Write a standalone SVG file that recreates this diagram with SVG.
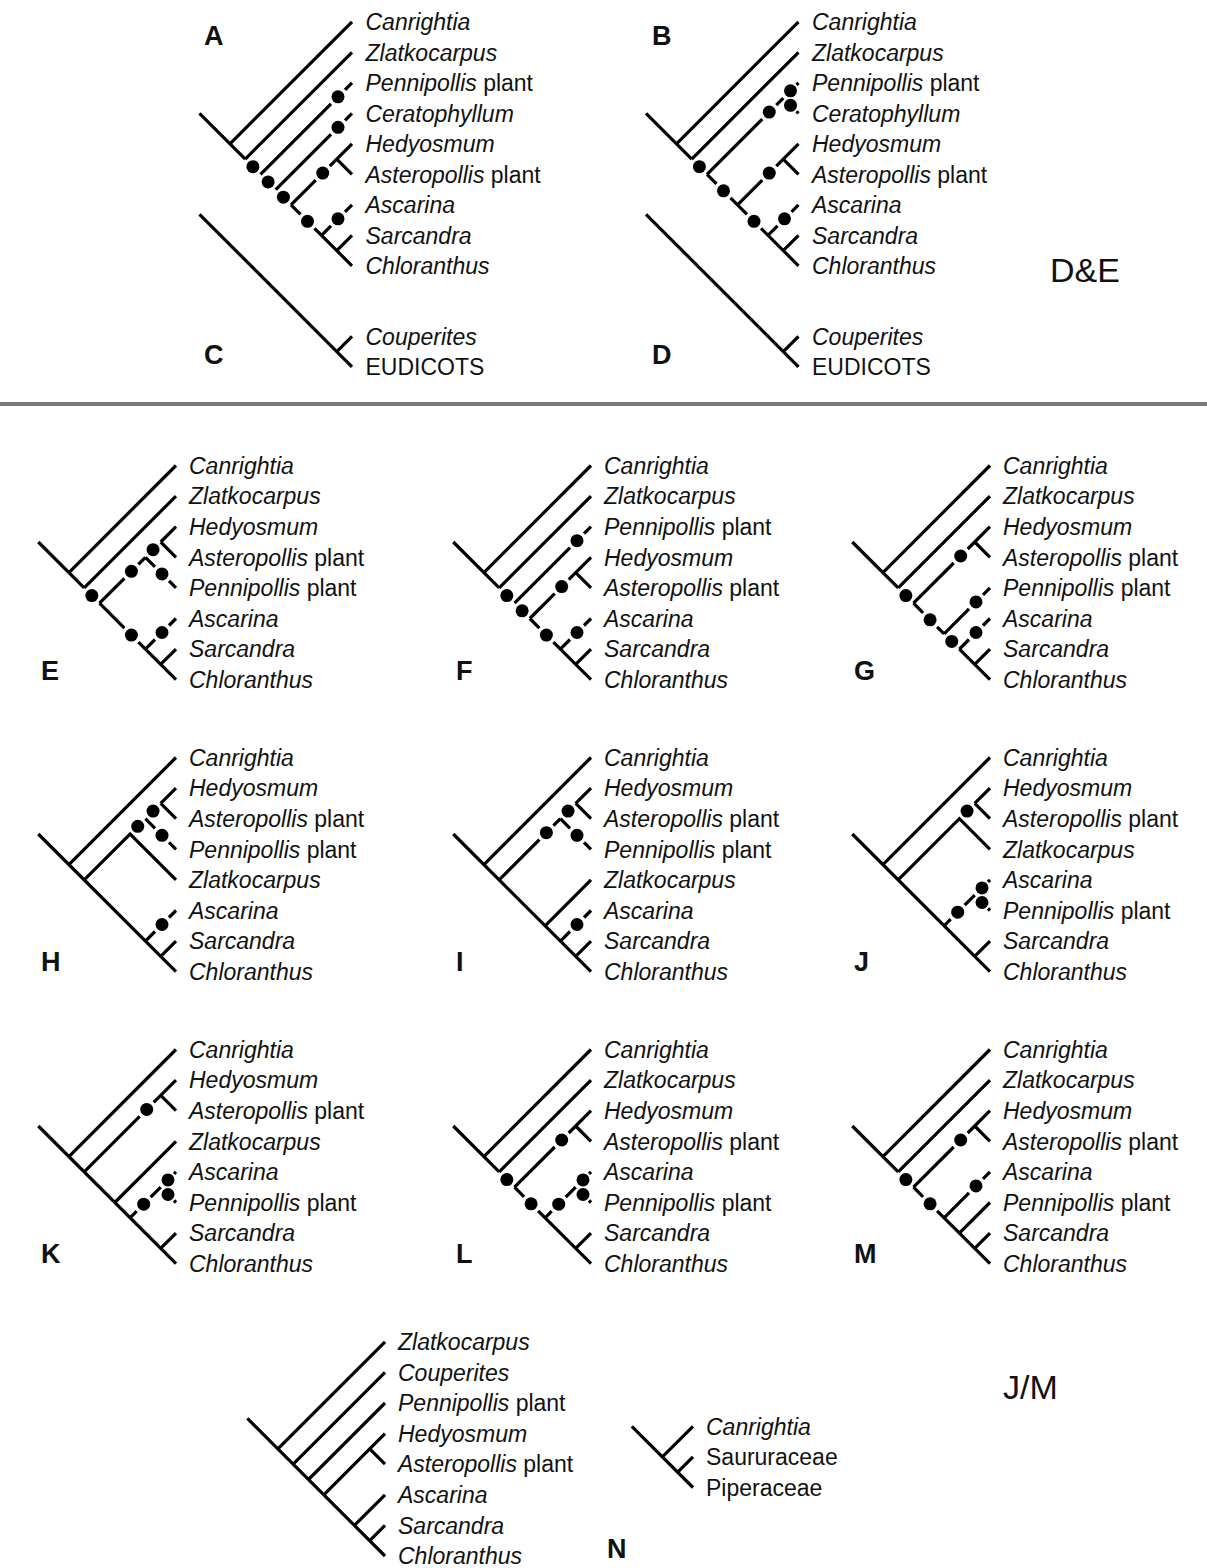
<svg xmlns="http://www.w3.org/2000/svg" xmlns:xlink="http://www.w3.org/1999/xlink" width="1207" height="1568" viewBox="0 0 1207 1568">
<defs>
<style>
.l{fill:none;stroke:#000;stroke-width:3.2;stroke-linecap:butt;stroke-linejoin:miter}
.t{font-family:"Liberation Sans",Arial,Helvetica,sans-serif;font-size:23px;fill:#111}
.i{font-style:italic}
.pl{font-family:"Liberation Sans",Arial,Helvetica,sans-serif;font-size:27px;font-weight:bold;fill:#111}
.big{font-family:"Liberation Sans",Arial,Helvetica,sans-serif;font-size:34px;fill:#111}
</style>
<circle id="dot" r="6.5" fill="#000"/>
</defs>
<rect width="1207" height="1568" fill="#fff"/>

<!-- Tree A -->
<g id="tree-A" transform="translate(352,265.8)">
<g id="A-connectors">
<path class="l" d="M-152.5,-152.5 L-106.75,-106.75 M-122,-122 L0,-244 M-106.75,-106.75 L0,-213.5 M-91.5,-91.5 L-21,-162 M-7,-176 L0,-183 M-76.25,-76.25 L-21,-131.5 M-7,-145.5 L0,-152.5 M-61,-61 L-36.25,-85.75 M-22.25,-99.75 L-15.25,-106.75 L0,-122 M-15.25,-106.75 L0,-91.5 M-61,-61 L-51.5,-51.5 M-37.5,-37.5 L0,0 M-30.5,-30.5 L-21,-40 M-7,-54 L0,-61 M-15.25,-15.25 L0,-30.5"/>
<use xlink:href="#dot" x="-99.1" y="-99.1"/><use xlink:href="#dot" x="-14" y="-169"/><use xlink:href="#dot" x="-83.9" y="-83.9"/><use xlink:href="#dot" x="-14" y="-138.5"/><use xlink:href="#dot" x="-68.6" y="-68.6"/><use xlink:href="#dot" x="-29.25" y="-92.75"/><use xlink:href="#dot" x="-44.5" y="-44.5"/><use xlink:href="#dot" x="-14" y="-47"/>
</g>
<g id="A-labels" class="t">
<text x="13.5" y="-235.8" class="i">Canrightia</text>
<text x="13.5" y="-205.3" class="i">Zlatkocarpus</text>
<text x="13.5" y="-174.8"><tspan class="i">Pennipollis</tspan> plant</text>
<text x="13.5" y="-144.3" class="i">Ceratophyllum</text>
<text x="13.5" y="-113.8" class="i">Hedyosmum</text>
<text x="13.5" y="-83.3"><tspan class="i">Asteropollis</tspan> plant</text>
<text x="13.5" y="-52.8" class="i">Ascarina</text>
<text x="13.5" y="-22.3" class="i">Sarcandra</text>
<text x="13.5" y="8.2" class="i">Chloranthus</text>
</g>
</g>

<!-- Tree C -->
<g id="tree-C" transform="translate(352,366.8)">
<g id="C-connectors"><path class="l" d="M-152.5,-152.5 L0,0 M-15.25,-15.25 L0,-30.5"/></g>
<g id="C-labels" class="t">
<text x="13.5" y="-22.3" class="i">Couperites</text>
<text x="13.5" y="8.2">EUDICOTS</text>
</g>
</g>

<!-- Tree B -->
<g id="tree-B" transform="translate(798.5,265.8)">
<g id="B-connectors">
<path class="l" d="M-152.5,-152.5 L-106.75,-106.75 M-122,-122 L0,-244 M-106.75,-106.75 L0,-213.5 M-91.5,-91.5 L-82,-82 M-68,-68 L-61,-61 M-91.5,-91.5 L-36.25,-146.75 M-22.25,-160.75 L-15.25,-167.75 M-2,-181 L0,-183 M-2,-154.5 L0,-152.5 M-61,-61 L-36.25,-85.75 M-22.25,-99.75 L-15.25,-106.75 L0,-122 M-15.25,-106.75 L0,-91.5 M-61,-61 L-51.5,-51.5 M-37.5,-37.5 L0,0 M-30.5,-30.5 L-21,-40 M-7,-54 L0,-61 M-15.25,-15.25 L0,-30.5"/>
<use xlink:href="#dot" x="-99.1" y="-99.1"/><use xlink:href="#dot" x="-75" y="-75"/><use xlink:href="#dot" x="-29.25" y="-153.75"/><use xlink:href="#dot" x="-8" y="-175"/><use xlink:href="#dot" x="-8" y="-160.5"/><use xlink:href="#dot" x="-29.25" y="-92.75"/><use xlink:href="#dot" x="-44.5" y="-44.5"/><use xlink:href="#dot" x="-14" y="-47"/>
</g>
<g id="B-labels" class="t">
<text x="13.5" y="-235.8" class="i">Canrightia</text>
<text x="13.5" y="-205.3" class="i">Zlatkocarpus</text>
<text x="13.5" y="-174.8"><tspan class="i">Pennipollis</tspan> plant</text>
<text x="13.5" y="-144.3" class="i">Ceratophyllum</text>
<text x="13.5" y="-113.8" class="i">Hedyosmum</text>
<text x="13.5" y="-83.3"><tspan class="i">Asteropollis</tspan> plant</text>
<text x="13.5" y="-52.8" class="i">Ascarina</text>
<text x="13.5" y="-22.3" class="i">Sarcandra</text>
<text x="13.5" y="8.2" class="i">Chloranthus</text>
</g>
</g>

<!-- Tree D -->
<g id="tree-D" transform="translate(798.5,366.8)">
<g id="D-connectors"><path class="l" d="M-152.5,-152.5 L0,0 M-15.25,-15.25 L0,-30.5"/></g>
<g id="D-labels" class="t">
<text x="13.5" y="-22.3" class="i">Couperites</text>
<text x="13.5" y="8.2">EUDICOTS</text>
</g>
</g>

<g id="panel-letters-top">
<text class="pl" x="204" y="44.5">A</text>
<text class="pl" x="204" y="364">C</text>
<text class="pl" x="652" y="44.5">B</text>
<text class="pl" x="652" y="364">D</text>
<text class="big" x="1050" y="282">D&amp;E</text>
</g>

<line id="separator" x1="0" y1="404" x2="1207" y2="404" stroke="#7a7a7a" stroke-width="4"/>

<!-- Tree E -->
<g id="tree-E" transform="translate(176,679.7)">
<g id="E-connectors">
<path class="l" d="M-137.7,-137.7 L-91.8,-91.8 M-107.1,-107.1 L0,-214.2 M-91.8,-91.8 L0,-183.6 M-76.5,-76.5 L-51.6,-101.4 M-37.6,-115.4 L-30.6,-122.4 M-15.3,-137.7 L0,-153 M-15.3,-137.7 L0,-122.4 M-30.6,-122.4 L-21,-112.8 M-7,-98.8 L0,-91.8 M-76.5,-76.5 L-51.6,-51.6 M-37.6,-37.6 L0,0 M-30.6,-30.6 L-21,-40.2 M-7,-54.2 L0,-61.2 M-15.3,-15.3 L0,-30.6"/>
<use xlink:href="#dot" x="-84.15" y="-84.15"/><use xlink:href="#dot" x="-44.6" y="-108.4"/><use xlink:href="#dot" x="-22.95" y="-130.05"/><use xlink:href="#dot" x="-14" y="-105.8"/><use xlink:href="#dot" x="-44.6" y="-44.6"/><use xlink:href="#dot" x="-14" y="-47.2"/>
</g>
<g id="E-labels" class="t">
<text x="13" y="-206" class="i">Canrightia</text>
<text x="13" y="-175.4" class="i">Zlatkocarpus</text>
<text x="13" y="-144.8" class="i">Hedyosmum</text>
<text x="13" y="-114.2"><tspan class="i">Asteropollis</tspan> plant</text>
<text x="13" y="-83.6"><tspan class="i">Pennipollis</tspan> plant</text>
<text x="13" y="-53" class="i">Ascarina</text>
<text x="13" y="-22.4" class="i">Sarcandra</text>
<text x="13" y="8.2" class="i">Chloranthus</text>
</g>
</g>

<!-- Tree F -->
<g id="tree-F" transform="translate(591,679.7)">
<g id="F-connectors">
<path class="l" d="M-137.7,-137.7 L-91.8,-91.8 M-107.1,-107.1 L0,-214.2 M-91.8,-91.8 L0,-183.6 M-76.5,-76.5 L-21,-132 M-7,-146 L0,-153 M-61.2,-61.2 L-36.3,-86.1 M-22.3,-100.1 L-15.3,-107.1 L0,-122.4 M-15.3,-107.1 L0,-91.8 M-61.2,-61.2 L-51.6,-51.6 M-37.6,-37.6 L0,0 M-30.6,-30.6 L-21,-40.2 M-7,-54.2 L0,-61.2 M-15.3,-15.3 L0,-30.6"/>
<use xlink:href="#dot" x="-84.15" y="-84.15"/><use xlink:href="#dot" x="-68.85" y="-68.85"/><use xlink:href="#dot" x="-14" y="-139"/><use xlink:href="#dot" x="-29.3" y="-93.1"/><use xlink:href="#dot" x="-44.6" y="-44.6"/><use xlink:href="#dot" x="-14" y="-47.2"/>
</g>
<g id="F-labels" class="t">
<text x="13" y="-206" class="i">Canrightia</text>
<text x="13" y="-175.4" class="i">Zlatkocarpus</text>
<text x="13" y="-144.8"><tspan class="i">Pennipollis</tspan> plant</text>
<text x="13" y="-114.2" class="i">Hedyosmum</text>
<text x="13" y="-83.6"><tspan class="i">Asteropollis</tspan> plant</text>
<text x="13" y="-53" class="i">Ascarina</text>
<text x="13" y="-22.4" class="i">Sarcandra</text>
<text x="13" y="8.2" class="i">Chloranthus</text>
</g>
</g>

<!-- Tree G -->
<g id="tree-G" transform="translate(990,679.7)">
<g id="G-connectors">
<path class="l" d="M-137.7,-137.7 L-91.8,-91.8 M-107.1,-107.1 L0,-214.2 M-91.8,-91.8 L0,-183.6 M-76.5,-76.5 L-36.3,-116.7 M-22.3,-130.7 L-15.3,-137.7 L0,-153 M-15.3,-137.7 L0,-122.4 M-76.5,-76.5 L-66.9,-66.9 M-52.9,-52.9 L-45.9,-45.9 M-45.9,-45.9 L-21,-70.8 M-7,-84.8 L0,-91.8 M-30.6,-30.6 L0,0 M-30.6,-30.6 L-21,-40.2 M-7,-54.2 L0,-61.2 M-15.3,-15.3 L0,-30.6"/>
<use xlink:href="#dot" x="-84.15" y="-84.15"/><use xlink:href="#dot" x="-29.3" y="-123.7"/><use xlink:href="#dot" x="-59.9" y="-59.9"/><use xlink:href="#dot" x="-14" y="-77.8"/><use xlink:href="#dot" x="-38.25" y="-38.25"/><use xlink:href="#dot" x="-14" y="-47.2"/>
</g>
<g id="G-labels" class="t">
<text x="13" y="-206" class="i">Canrightia</text>
<text x="13" y="-175.4" class="i">Zlatkocarpus</text>
<text x="13" y="-144.8" class="i">Hedyosmum</text>
<text x="13" y="-114.2"><tspan class="i">Asteropollis</tspan> plant</text>
<text x="13" y="-83.6"><tspan class="i">Pennipollis</tspan> plant</text>
<text x="13" y="-53" class="i">Ascarina</text>
<text x="13" y="-22.4" class="i">Sarcandra</text>
<text x="13" y="8.2" class="i">Chloranthus</text>
</g>
</g>

<!-- Tree H -->
<g id="tree-H" transform="translate(176,971.7)">
<g id="H-connectors">
<path class="l" d="M-137.7,-137.7 L0,0 M-107.1,-107.1 L0,-214.2 M-91.8,-91.8 L-45.9,-137.7 L0,-91.8 M-15.3,-168.3 L0,-183.6 M-15.3,-168.3 L0,-153 M-30.6,-153 L-21,-143.4 M-7,-129.4 L0,-122.4 M-30.6,-30.6 L-21,-40.2 M-7,-54.2 L0,-61.2 M-15.3,-15.3 L0,-30.6"/>
<use xlink:href="#dot" x="-38.25" y="-145.35"/><use xlink:href="#dot" x="-22.95" y="-160.65"/><use xlink:href="#dot" x="-14" y="-136.4"/><use xlink:href="#dot" x="-14" y="-47.2"/>
</g>
<g id="H-labels" class="t">
<text x="13" y="-206" class="i">Canrightia</text>
<text x="13" y="-175.4" class="i">Hedyosmum</text>
<text x="13" y="-144.8"><tspan class="i">Asteropollis</tspan> plant</text>
<text x="13" y="-114.2"><tspan class="i">Pennipollis</tspan> plant</text>
<text x="13" y="-83.6" class="i">Zlatkocarpus</text>
<text x="13" y="-53" class="i">Ascarina</text>
<text x="13" y="-22.4" class="i">Sarcandra</text>
<text x="13" y="8.2" class="i">Chloranthus</text>
</g>
</g>

<!-- Tree I -->
<g id="tree-I" transform="translate(591,971.7)">
<g id="I-connectors">
<path class="l" d="M-137.7,-137.7 L0,0 M-107.1,-107.1 L0,-214.2 M-91.8,-91.8 L-51.6,-132 M-37.6,-146 L-30.6,-153 M-15.3,-168.3 L0,-183.6 M-15.3,-168.3 L0,-153 M-30.6,-153 L-21,-143.4 M-7,-129.4 L0,-122.4 M-45.9,-45.9 L0,-91.8 M-30.6,-30.6 L-21,-40.2 M-7,-54.2 L0,-61.2 M-15.3,-15.3 L0,-30.6"/>
<use xlink:href="#dot" x="-44.6" y="-139"/><use xlink:href="#dot" x="-22.95" y="-160.65"/><use xlink:href="#dot" x="-14" y="-136.4"/><use xlink:href="#dot" x="-14" y="-47.2"/>
</g>
<g id="I-labels" class="t">
<text x="13" y="-206" class="i">Canrightia</text>
<text x="13" y="-175.4" class="i">Hedyosmum</text>
<text x="13" y="-144.8"><tspan class="i">Asteropollis</tspan> plant</text>
<text x="13" y="-114.2"><tspan class="i">Pennipollis</tspan> plant</text>
<text x="13" y="-83.6" class="i">Zlatkocarpus</text>
<text x="13" y="-53" class="i">Ascarina</text>
<text x="13" y="-22.4" class="i">Sarcandra</text>
<text x="13" y="8.2" class="i">Chloranthus</text>
</g>
</g>

<!-- Tree J -->
<g id="tree-J" transform="translate(990,971.7)">
<g id="J-connectors">
<path class="l" d="M-137.7,-137.7 L0,0 M-107.1,-107.1 L0,-214.2 M-91.8,-91.8 L-30.6,-153 L0,-122.4 M-15.3,-168.3 L0,-183.6 M-15.3,-168.3 L0,-153 M-45.9,-45.9 L-39.3,-52.5 M-25.3,-66.5 L-15.3,-76.5 M-2,-89.8 L0,-91.8 M-2,-63.2 L0,-61.2 M-15.3,-15.3 L0,-30.6"/>
<use xlink:href="#dot" x="-22.95" y="-160.65"/><use xlink:href="#dot" x="-32.3" y="-59.5"/><use xlink:href="#dot" x="-8" y="-83.8"/><use xlink:href="#dot" x="-8" y="-69.2"/>
</g>
<g id="J-labels" class="t">
<text x="13" y="-206" class="i">Canrightia</text>
<text x="13" y="-175.4" class="i">Hedyosmum</text>
<text x="13" y="-144.8"><tspan class="i">Asteropollis</tspan> plant</text>
<text x="13" y="-114.2" class="i">Zlatkocarpus</text>
<text x="13" y="-83.6" class="i">Ascarina</text>
<text x="13" y="-53"><tspan class="i">Pennipollis</tspan> plant</text>
<text x="13" y="-22.4" class="i">Sarcandra</text>
<text x="13" y="8.2" class="i">Chloranthus</text>
</g>
</g>

<!-- Tree K -->
<g id="tree-K" transform="translate(176,1263.7)">
<g id="K-connectors">
<path class="l" d="M-137.7,-137.7 L0,0 M-107.1,-107.1 L0,-214.2 M-91.8,-91.8 L-36.3,-147.3 M-22.3,-161.3 L-15.3,-168.3 L0,-183.6 M-15.3,-168.3 L0,-153 M-61.2,-61.2 L0,-122.4 M-45.9,-45.9 L-39.3,-52.5 M-25.3,-66.5 L-15.3,-76.5 M-2,-89.8 L0,-91.8 M-2,-63.2 L0,-61.2 M-15.3,-15.3 L0,-30.6"/>
<use xlink:href="#dot" x="-29.3" y="-154.3"/><use xlink:href="#dot" x="-32.3" y="-59.5"/><use xlink:href="#dot" x="-8" y="-83.8"/><use xlink:href="#dot" x="-8" y="-69.2"/>
</g>
<g id="K-labels" class="t">
<text x="13" y="-206" class="i">Canrightia</text>
<text x="13" y="-175.4" class="i">Hedyosmum</text>
<text x="13" y="-144.8"><tspan class="i">Asteropollis</tspan> plant</text>
<text x="13" y="-114.2" class="i">Zlatkocarpus</text>
<text x="13" y="-83.6" class="i">Ascarina</text>
<text x="13" y="-53"><tspan class="i">Pennipollis</tspan> plant</text>
<text x="13" y="-22.4" class="i">Sarcandra</text>
<text x="13" y="8.2" class="i">Chloranthus</text>
</g>
</g>

<!-- Tree L -->
<g id="tree-L" transform="translate(591,1263.7)">
<g id="L-connectors">
<path class="l" d="M-137.7,-137.7 L-91.8,-91.8 M-107.1,-107.1 L0,-214.2 M-91.8,-91.8 L0,-183.6 M-76.5,-76.5 L-36.3,-116.7 M-22.3,-130.7 L-15.3,-137.7 L0,-153 M-15.3,-137.7 L0,-122.4 M-76.5,-76.5 L-66.9,-66.9 M-52.9,-52.9 L0,0 M-45.9,-45.9 L-39.3,-52.5 M-25.3,-66.5 L-15.3,-76.5 M-2,-89.8 L0,-91.8 M-2,-63.2 L0,-61.2 M-15.3,-15.3 L0,-30.6"/>
<use xlink:href="#dot" x="-84.15" y="-84.15"/><use xlink:href="#dot" x="-29.3" y="-123.7"/><use xlink:href="#dot" x="-59.9" y="-59.9"/><use xlink:href="#dot" x="-32.3" y="-59.5"/><use xlink:href="#dot" x="-8" y="-83.8"/><use xlink:href="#dot" x="-8" y="-69.2"/>
</g>
<g id="L-labels" class="t">
<text x="13" y="-206" class="i">Canrightia</text>
<text x="13" y="-175.4" class="i">Zlatkocarpus</text>
<text x="13" y="-144.8" class="i">Hedyosmum</text>
<text x="13" y="-114.2"><tspan class="i">Asteropollis</tspan> plant</text>
<text x="13" y="-83.6" class="i">Ascarina</text>
<text x="13" y="-53"><tspan class="i">Pennipollis</tspan> plant</text>
<text x="13" y="-22.4" class="i">Sarcandra</text>
<text x="13" y="8.2" class="i">Chloranthus</text>
</g>
</g>

<!-- Tree M -->
<g id="tree-M" transform="translate(990,1263.7)">
<g id="M-connectors">
<path class="l" d="M-137.7,-137.7 L-91.8,-91.8 M-107.1,-107.1 L0,-214.2 M-91.8,-91.8 L0,-183.6 M-76.5,-76.5 L-36.3,-116.7 M-22.3,-130.7 L-15.3,-137.7 L0,-153 M-15.3,-137.7 L0,-122.4 M-76.5,-76.5 L-66.9,-66.9 M-52.9,-52.9 L0,0 M-45.9,-45.9 L-21,-70.8 M-7,-84.8 L0,-91.8 M-30.6,-30.6 L0,-61.2 M-15.3,-15.3 L0,-30.6"/>
<use xlink:href="#dot" x="-84.15" y="-84.15"/><use xlink:href="#dot" x="-29.3" y="-123.7"/><use xlink:href="#dot" x="-59.9" y="-59.9"/><use xlink:href="#dot" x="-14" y="-77.8"/>
</g>
<g id="M-labels" class="t">
<text x="13" y="-206" class="i">Canrightia</text>
<text x="13" y="-175.4" class="i">Zlatkocarpus</text>
<text x="13" y="-144.8" class="i">Hedyosmum</text>
<text x="13" y="-114.2"><tspan class="i">Asteropollis</tspan> plant</text>
<text x="13" y="-83.6" class="i">Ascarina</text>
<text x="13" y="-53"><tspan class="i">Pennipollis</tspan> plant</text>
<text x="13" y="-22.4" class="i">Sarcandra</text>
<text x="13" y="8.2" class="i">Chloranthus</text>
</g>
</g>

<!-- Tree N -->
<g id="tree-N" transform="translate(385,1556)">
<g id="N-connectors">
<path class="l" d="M-137.7,-137.7 L0,0 M-107.1,-107.1 L0,-214.2 M-91.8,-91.8 L0,-183.6 M-76.5,-76.5 L0,-153 M-61.2,-61.2 L-15.3,-107.1 L0,-122.4 M-15.3,-107.1 L0,-91.8 M-30.6,-30.6 L0,-61.2 M-15.3,-15.3 L0,-30.6"/>
</g>
<g id="N-labels" class="t">
<text x="13" y="-206" class="i">Zlatkocarpus</text>
<text x="13" y="-175.4" class="i">Couperites</text>
<text x="13" y="-144.8"><tspan class="i">Pennipollis</tspan> plant</text>
<text x="13" y="-114.2" class="i">Hedyosmum</text>
<text x="13" y="-83.6"><tspan class="i">Asteropollis</tspan> plant</text>
<text x="13" y="-53" class="i">Ascarina</text>
<text x="13" y="-22.4" class="i">Sarcandra</text>
<text x="13" y="8.2" class="i">Chloranthus</text>
</g>
</g>

<!-- Side tree -->
<g id="tree-side" transform="translate(693,1487.5)">
<g id="side-connectors"><path class="l" d="M-61.2,-61.2 L0,0 M-30.6,-30.6 L0,-61.2 M-15.3,-15.3 L0,-30.6"/></g>
<g id="side-labels" class="t">
<text x="13" y="-53" class="i">Canrightia</text>
<text x="13" y="-22.4">Saururaceae</text>
<text x="13" y="8.2">Piperaceae</text>
</g>
</g>

<g id="panel-letters-bottom">
<text class="pl" x="41" y="680">E</text>
<text class="pl" x="456" y="680">F</text>
<text class="pl" x="854" y="680">G</text>
<text class="pl" x="41" y="971">H</text>
<text class="pl" x="456" y="971">I</text>
<text class="pl" x="854" y="971">J</text>
<text class="pl" x="41" y="1263">K</text>
<text class="pl" x="456" y="1263">L</text>
<text class="pl" x="854" y="1263">M</text>
<text class="pl" x="607" y="1558">N</text>
<text class="big" x="1003" y="1399">J/M</text>
</g>
</svg>
